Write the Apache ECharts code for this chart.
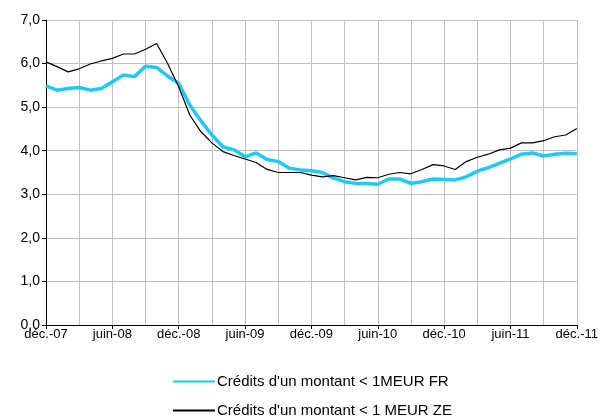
<!DOCTYPE html>
<html>
<head>
<meta charset="utf-8">
<style>
html, body { margin: 0; padding: 0; background: #fff; }
#chart-panel { position: absolute; left: 0; top: 0; width: 601px; height: 417px; }
</style>
<script src="https://cdn.jsdelivr.net/npm/echarts@6/dist/echarts.min.js"></script>
</head>
<body>
<div id="chart-panel"></div>
<script type="text/javascript">
// mois de déc.-07 à déc.-11
var monthNames = ['janv.', 'févr.', 'mars', 'avr.', 'mai', 'juin', 'juil.', 'août', 'sept.', 'oct.', 'nov.', 'déc.'];
var startYear = 2007, startMonth = 11, nbMonths = 49;
var categories = [];
for (var i = 0; i < nbMonths; i++) {
    var m = (startMonth + i) % 12;
    var y = startYear + Math.floor((startMonth + i) / 12);
    categories.push(monthNames[m] + '-' + String(y).slice(2));
}

var seriesNames = ["Crédits d'un montant < 1MEUR FR", "Crédits d'un montant < 1 MEUR ZE"];

var creditsFR = [5.49, 5.39, 5.43, 5.45, 5.39, 5.43, 5.58, 5.74, 5.70, 5.94, 5.91, 5.71,
    5.55, 5.05, 4.69, 4.36, 4.09, 4.02, 3.86, 3.95, 3.80, 3.75, 3.60, 3.56,
    3.54, 3.50, 3.37, 3.29, 3.25, 3.25, 3.23, 3.35, 3.35, 3.25, 3.29, 3.35,
    3.34, 3.33, 3.40, 3.53, 3.61, 3.71, 3.81, 3.92, 3.95, 3.88, 3.92, 3.94, 3.93];

var creditsZE = [6.04, 5.93, 5.81, 5.88, 5.99, 6.06, 6.12, 6.22, 6.22, 6.33, 6.46, 6.00,
    5.47, 4.82, 4.44, 4.18, 3.98, 3.89, 3.81, 3.73, 3.57, 3.50, 3.50, 3.50,
    3.44, 3.40, 3.43, 3.38, 3.33, 3.39, 3.38, 3.46, 3.50, 3.47, 3.57, 3.68,
    3.65, 3.57, 3.75, 3.85, 3.92, 4.02, 4.06, 4.18, 4.18, 4.23, 4.32, 4.36, 4.51];

var myChart = echarts.init(document.getElementById('chart-panel'));

// une légende par ligne, empilées
var legendBase = {
    left: 167,
    itemWidth: 42,
    itemHeight: 16,
    itemStyle: { opacity: 0 },
    textStyle: { fontSize: 15, color: '#000', padding: [0, 0, 0, -3], fontFamily: 'Liberation Sans, Arial, sans-serif' }
};

var option = {
    animation: false,
    textStyle: { fontFamily: 'Liberation Sans, Arial, sans-serif', color: '#000' },
    grid: { left: 46, right: 23, top: 20, bottom: 92, containLabel: false },
    legend: [
        Object.assign({}, legendBase, { top: 369, data: [seriesNames[0]] }),
        Object.assign({}, legendBase, { top: 398, data: [seriesNames[1]] })
    ],
    xAxis: {
        type: 'category',
        boundaryGap: false,
        data: categories,
        axisLine: { lineStyle: { color: '#000', width: 1 } },
        axisTick: { show: true, inside: false, length: 4, interval: 5, lineStyle: { color: '#000' } },
        axisLabel: { interval: 5, fontSize: 13, color: '#000', margin: 3 },
        splitLine: { show: true, interval: 2, lineStyle: { color: '#c0c0c0', width: 1 } }
    },
    yAxis: {
        type: 'value',
        min: 0,
        max: 7,
        interval: 1,
        axisLine: { show: true, lineStyle: { color: '#000', width: 1 } },
        axisTick: { show: true, inside: false, length: 4, lineStyle: { color: '#000' } },
        axisLabel: {
            fontSize: 14, color: '#000', margin: 6,
            formatter: function (v) { return v.toFixed(1).replace('.', ','); }
        },
        splitLine: { show: true, lineStyle: { color: '#c0c0c0', width: 1 } }
    },
    series: [
        {
            name: seriesNames[0],
            type: 'line',
            data: creditsFR,
            symbol: 'none',
            lineStyle: { color: '#1fc8f5', width: 3.5 },
            itemStyle: { color: '#1fc8f5' },
            z: 2
        },
        {
            name: seriesNames[1],
            type: 'line',
            data: creditsZE,
            symbol: 'none',
            lineStyle: { color: '#000', width: 1.2 },
            itemStyle: { color: '#000' },
            z: 3
        }
    ]
};

myChart.setOption(option);
</script>
</body>
</html>
